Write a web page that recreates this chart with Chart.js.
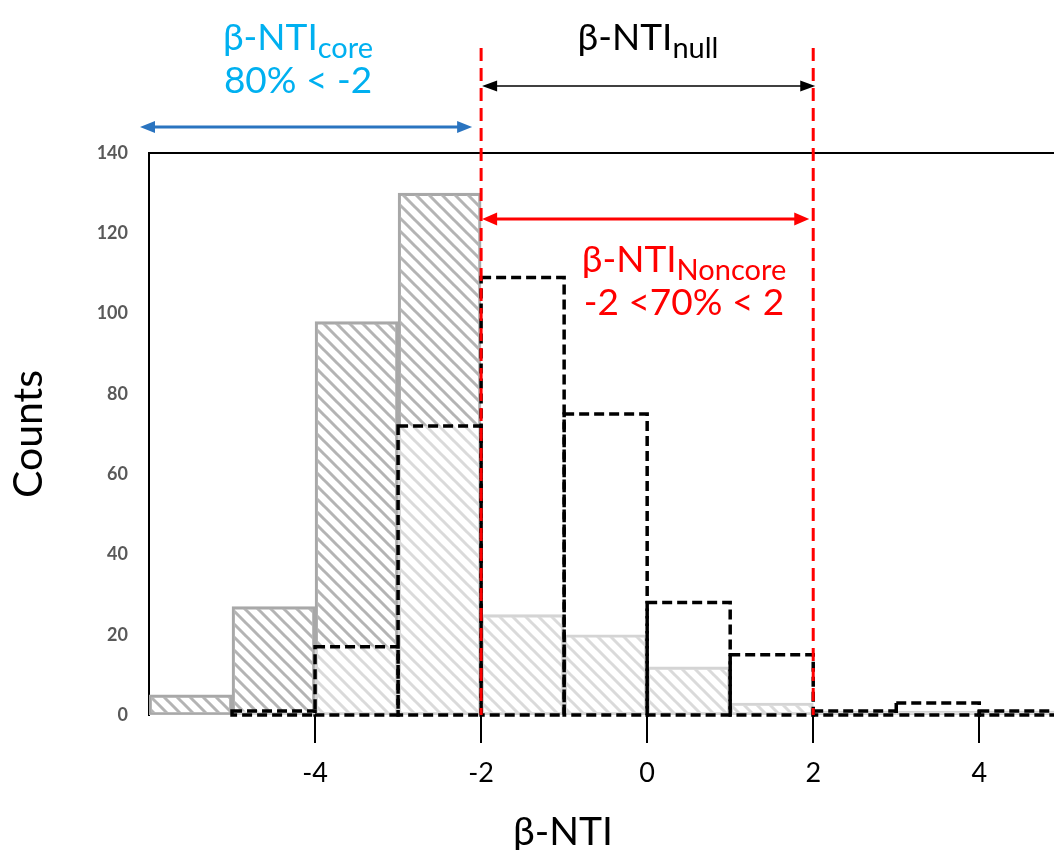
<!DOCTYPE html>
<html><head><meta charset="utf-8">
<script src="https://cdn.jsdelivr.net/npm/chart.js@4/dist/chart.umd.min.js"></script>
<style>html,body{margin:0;padding:0;background:#fff;overflow:hidden}#wrap{width:1054px;height:850px;position:relative}</style>
</head><body><div id="wrap"><canvas id="c" width="1054" height="850"></canvas></div>
<script>
// ---- data ----
const binStarts = [-6, -5, -4, -3, -2, -1, 0, 1, 2, 3, 4];
const coreCounts = [5, 27, 98, 130, 25, 20, 12, 3, 1, 1, 1];
const noncoreCounts = [0, 1, 17, 72, 109, 75, 28, 15, 1, 3, 1];
const xTickValues = [-4, -2, 0, 2, 4];
const yTickValues = [0, 20, 40, 60, 80, 100, 120, 140];
const nullRange = [-2, 2];
const xTitle = 'β-NTI';
const yTitle = 'Counts';

const FONT = 'Lato, "Open Sans", sans-serif';

// hatch pattern
function makeHatch(color) {
  const s = 13;
  const cv = document.createElement('canvas');
  cv.width = s; cv.height = s;
  const g = cv.getContext('2d');
  g.strokeStyle = color; g.lineWidth = 3;
  g.beginPath();
  for (const o of [-s, 0, s]) { g.moveTo(o - 1, -1); g.lineTo(o + s + 1, s + 1); }
  g.stroke();
  return g.createPattern(cv, 'repeat');
}
const ctx0 = document.getElementById('c').getContext('2d');
const hatch = makeHatch('#b4b4b4');

const coreData = binStarts.map((b, i) => ({x: b + 0.5, y: coreCounts[i]}));
const noncoreData = binStarts.map((b, i) => ({x: b + 0.5, y: noncoreCounts[i]}));

const frame = {
  id: 'frame',
  beforeDatasetsDraw(chart) {
    const {ctx, chartArea: a} = chart;
    ctx.save();
    ctx.strokeStyle = '#000'; ctx.lineWidth = 2;
    ctx.beginPath(); ctx.moveTo(a.left - 1, a.top); ctx.lineTo(a.right + 2, a.top); ctx.stroke();
    ctx.restore();
  }
};

const dashedBars = {
  id: 'dashedBars',
  afterDatasetsDraw(chart) {
    const {ctx} = chart;
    const meta = chart.getDatasetMeta(0);
    ctx.save();
    ctx.beginPath();
    ctx.rect(chart.chartArea.left, 0, chart.chartArea.right - chart.chartArea.left, chart.height);
    ctx.clip();
    ctx.strokeStyle = '#000'; ctx.lineWidth = 3.5; ctx.setLineDash([10, 5]);
    meta.data.forEach((el, i) => {
      if (!noncoreCounts[i]) return;
      const p = el.getProps(['x', 'y', 'base', 'width'], true);
      ctx.strokeRect(p.x - p.width / 2, p.y, p.width, p.base - p.y);
    });
    ctx.restore();
  }
};

function arrow(ctx, x1, x2, y, color, lw, hl, hw) {
  ctx.save();
  ctx.strokeStyle = color; ctx.fillStyle = color; ctx.lineWidth = lw; ctx.setLineDash([]);
  ctx.beginPath(); ctx.moveTo(x1 + hl * 0.7, y); ctx.lineTo(x2 - hl * 0.7, y); ctx.stroke();
  ctx.beginPath(); ctx.moveTo(x1, y); ctx.lineTo(x1 + hl, y - hw / 2); ctx.lineTo(x1 + hl, y + hw / 2); ctx.closePath(); ctx.fill();
  ctx.beginPath(); ctx.moveTo(x2, y); ctx.lineTo(x2 - hl, y - hw / 2); ctx.lineTo(x2 - hl, y + hw / 2); ctx.closePath(); ctx.fill();
  ctx.restore();
}
function subText(ctx, main, sub, cx, base, color, ms, ss, drop) {
  ctx.save();
  ctx.fillStyle = color; ctx.textBaseline = 'alphabetic'; ctx.textAlign = 'left';
  ctx.font = ms + 'px ' + FONT; const wm = ctx.measureText(main).width;
  ctx.font = ss + 'px ' + FONT; const ws = ctx.measureText(sub).width;
  const x0 = cx - (wm + ws) / 2;
  ctx.font = ms + 'px ' + FONT; ctx.fillText(main, x0, base);
  ctx.font = ss + 'px ' + FONT; ctx.fillText(sub, x0 + wm, base + drop);
  ctx.restore();
}
function text(ctx, t, cx, base, color, size) {
  ctx.save();
  ctx.fillStyle = color; ctx.textBaseline = 'alphabetic'; ctx.textAlign = 'center';
  ctx.font = size + 'px ' + FONT; ctx.fillText(t, cx, base);
  ctx.restore();
}

const annotations = {
  id: 'annotations',
  afterDraw(chart) {
    const {ctx, chartArea: a} = chart;
    const xs = chart.scales.x;
    const xl = xs.getPixelForValue(nullRange[0]);
    const xr = xs.getPixelForValue(nullRange[1]);
    const top = a.top;
    // red dashed threshold lines
    ctx.save();
    ctx.strokeStyle = '#ff0000'; ctx.lineWidth = 3; ctx.setLineDash([13, 7]);
    for (const x of [xl, xr]) { ctx.beginPath(); ctx.moveTo(x, top - 105); ctx.lineTo(x, a.bottom); ctx.stroke(); }
    ctx.restore();
    // arrows
    arrow(ctx, a.left - 9, xl - 9, top - 26, '#2a74c0', 3, 15, 12);
    arrow(ctx, xl + 1, xr + 2, top - 67, '#000', 1.5, 15, 11);
    arrow(ctx, xl + 1, xr - 4, top + 66, '#ff0000', 3, 15, 13);
    // texts
    subText(ctx, 'β-NTI', 'core', 298, top - 103, '#00b0f0', 37, 29, 8);
    text(ctx, '80% < -2', 298, top - 60, '#00b0f0', 37);
    subText(ctx, 'β-NTI', 'null', 648, top - 103, '#000', 37, 29, 8);
    subText(ctx, 'β-NTI', 'Noncore', 684, top + 119, '#ff0000', 37, 29, 8);
    text(ctx, '-2 <70% < 2', 684, top + 162, '#ff0000', 37);
    // x axis title
    text(ctx, xTitle, 563, 845, '#000', 39);
  }
};

new Chart(ctx0, {
  type: 'bar',
  data: {
    datasets: [
      { label: 'Noncore', data: noncoreData, backgroundColor: 'rgba(255,255,255,0.5)', borderWidth: 0, order: 1 },
      { label: 'Core', data: coreData, backgroundColor: hatch, borderColor: '#a8a8a8', borderWidth: 2.5, borderSkipped: false, order: 2 }
    ]
  },
  options: {
    responsive: false,
    animation: false,
    devicePixelRatio: 1,
    grouped: false,
    barPercentage: 1,
    categoryPercentage: 1,
    layout: { padding: { top: 153, right: 0, bottom: 0, left: 0 } },
    plugins: { legend: { display: false }, tooltip: { enabled: false } },
    scales: {
      x: {
        type: 'linear', min: -6, max: 4.9, offset: false,
        afterBuildTicks: s => { s.ticks = xTickValues.map(v => ({value: v})); },
        afterFit: s => { s.height = 135; },
        grid: { display: true, drawOnChartArea: false, drawTicks: true, tickLength: 28, color: '#000', lineWidth: 2, offset: false },
        border: { display: false },
        ticks: { color: '#000', font: { family: FONT, size: 27 }, padding: 14, maxRotation: 0, autoSkip: false },
        title: { display: false }
      },
      y: {
        min: 0, max: 140,
        afterBuildTicks: s => { s.ticks = yTickValues.map(v => ({value: v})); },
        afterFit: s => { s.width = 149; },
        grid: { display: false, drawTicks: false },
        border: { display: true, color: '#000', width: 2 },
        ticks: { color: '#595959', font: { family: FONT, size: 18, weight: 'bold' }, padding: 21 },
        title: { display: true, text: yTitle, color: '#000', font: { family: FONT, size: 41 }, padding: { top: 4, bottom: 0 } }
      }
    }
  },
  plugins: [frame, dashedBars, annotations]
});
</script></body></html>
